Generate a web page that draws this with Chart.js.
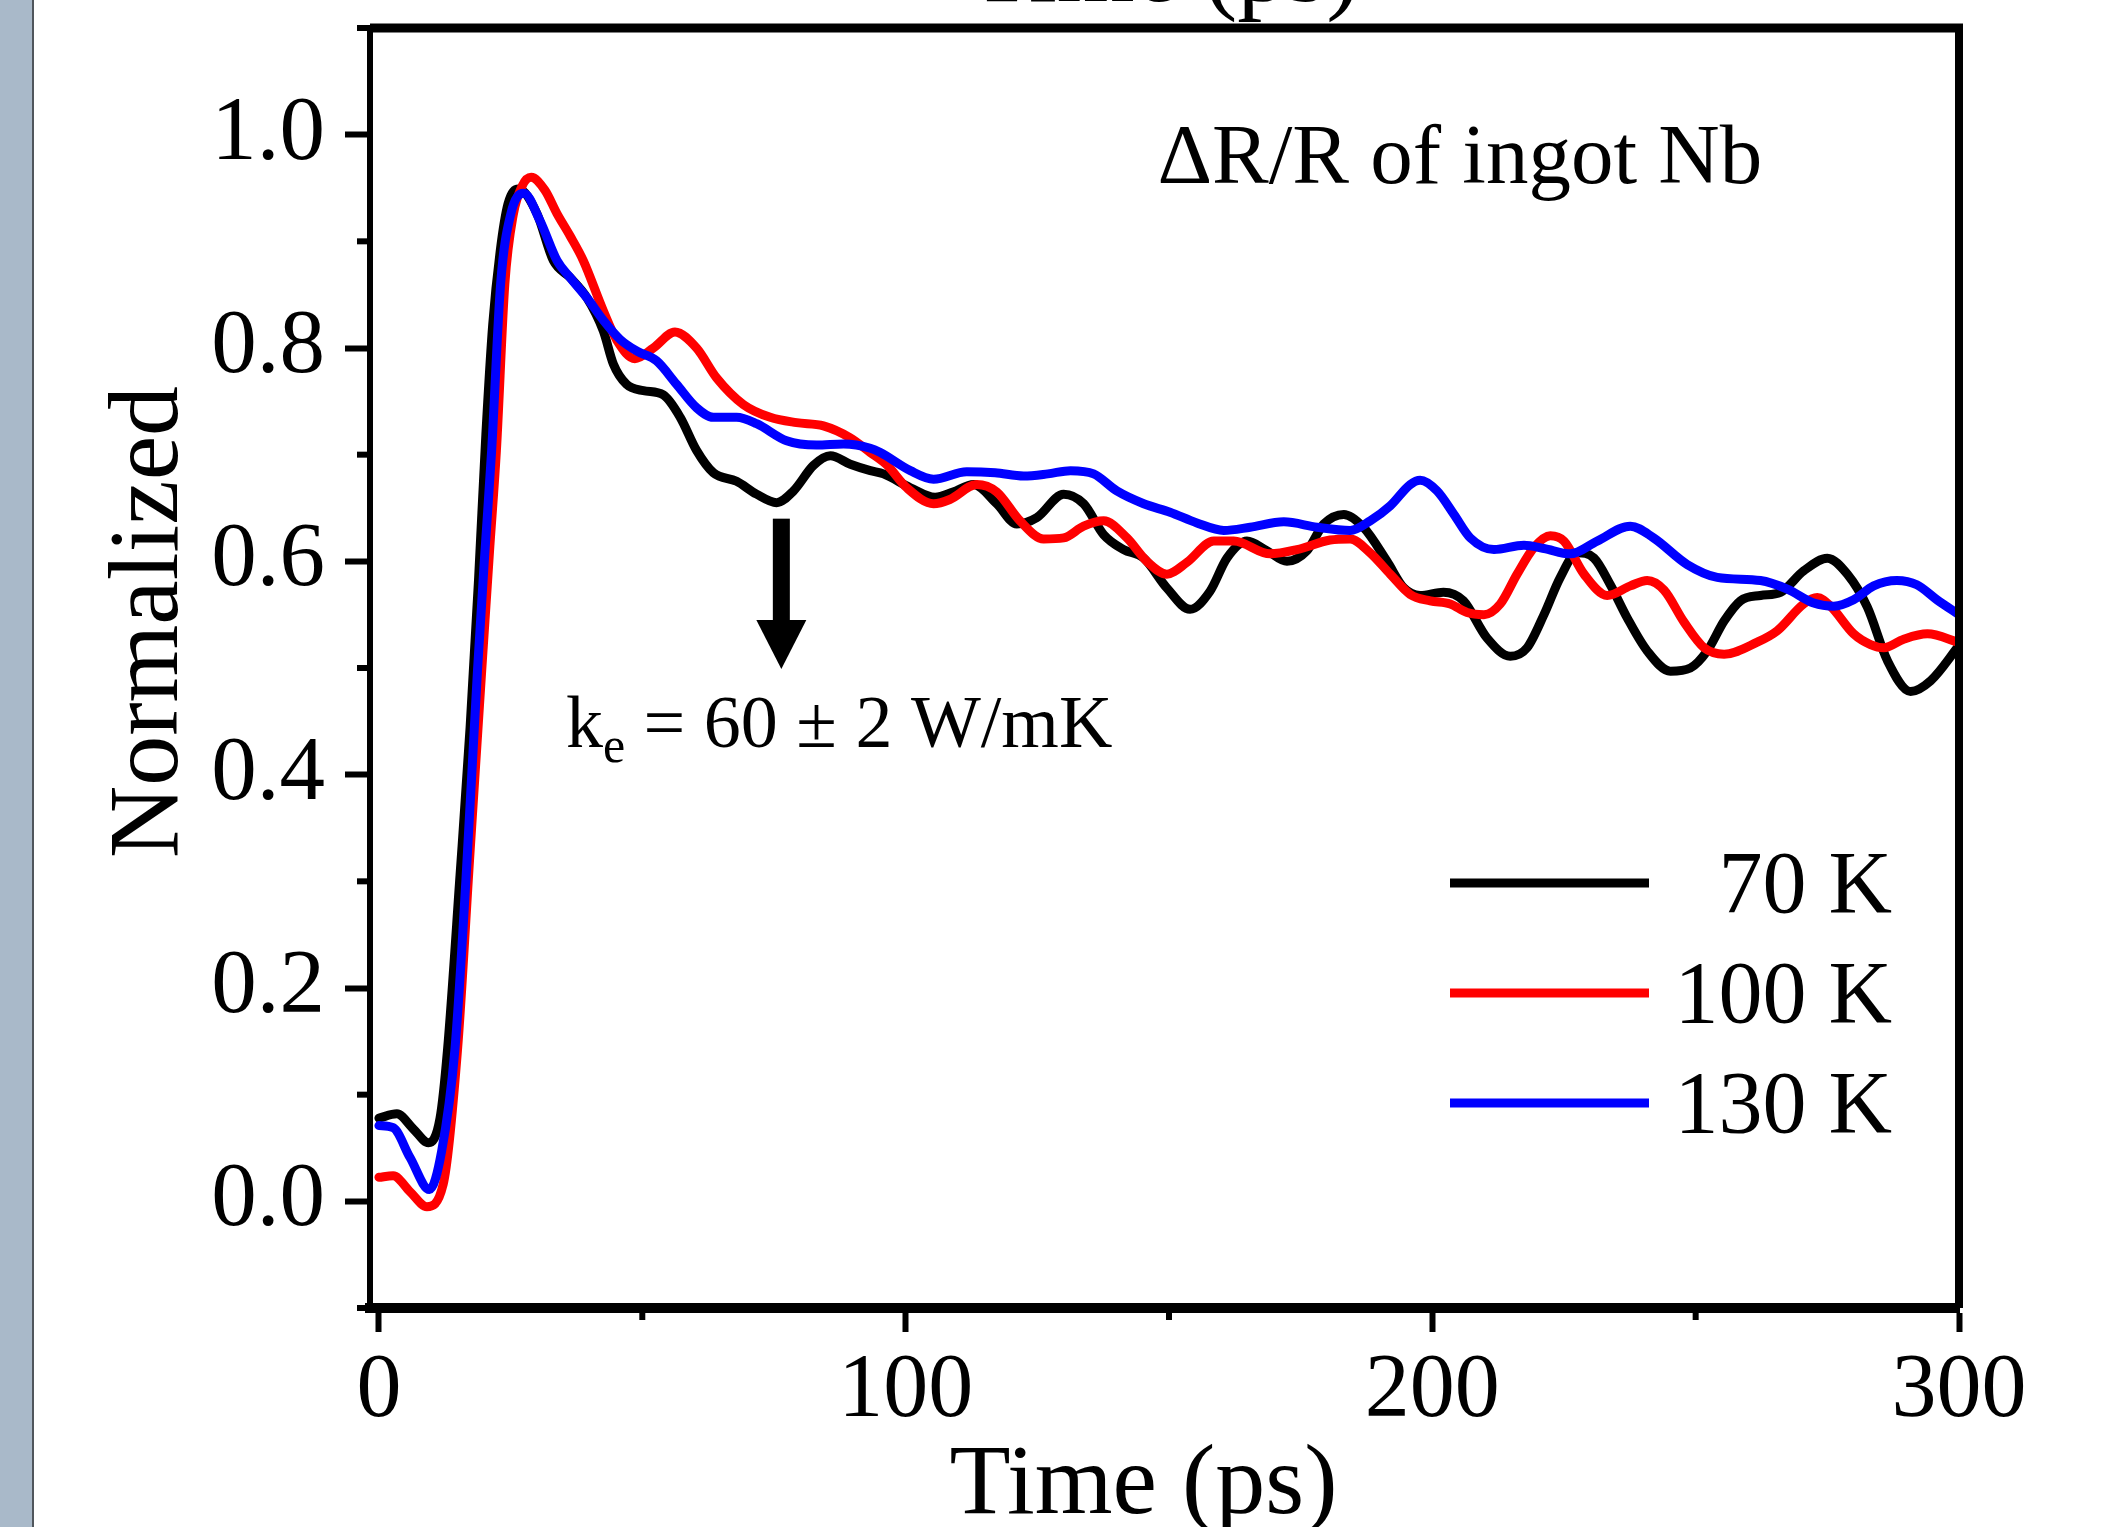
<!DOCTYPE html>
<html>
<head>
<meta charset="utf-8">
<script src="https://cdn.jsdelivr.net/npm/chart.js@4.4.1/dist/chart.umd.min.js"></script>
<style>
  html, body { margin: 0; padding: 0; background: #fff; }
  canvas { display: block; }
</style>
</head>
<body>
<canvas id="reflectivity" width="2110" height="1527"></canvas>
<script>
// time axis (ps) and normalized dR/R for each temperature
var t70 = [0, 3.4, 6.5, 9.4, 11.6, 13.0, 15.4, 17.3, 18.9, 20.3, 21.6, 23.0, 24.5, 26.5, 30.0, 33.1, 36.3, 39.5, 42.6, 44.5, 47.0, 50.2, 54.0, 57.2, 60.3, 63.5, 67.9, 71.7, 75.5, 78.7, 82.5, 85.7, 89.5, 93.3, 95.8, 100.9, 105.6, 109.0, 112.9, 117.3, 121.1, 124.9, 130.0, 133.8, 137.6, 141.4, 145.2, 149.6, 154.0, 157.8, 161.0, 164.8, 168.6, 172.4, 176.2, 179.4, 183.2, 186.9, 191.4, 194.6, 197.7, 202.1, 205.9, 210.4, 214.8, 218.0, 221.2, 224.3, 227.5, 230.7, 233.8, 237.0, 240.8, 245.2, 249.0, 252.2, 255.4, 258.5, 262.3, 266.1, 270.5, 275.0, 278.8, 282.6, 286.4, 290.8, 294.6, 300];
var v70 = [0.078, 0.082, 0.068, 0.055, 0.078, 0.141, 0.306, 0.444, 0.582, 0.719, 0.822, 0.89, 0.935, 0.949, 0.926, 0.882, 0.866, 0.847, 0.816, 0.785, 0.766, 0.760, 0.756, 0.735, 0.704, 0.683, 0.675, 0.663, 0.655, 0.666, 0.690, 0.699, 0.691, 0.685, 0.682, 0.669, 0.660, 0.665, 0.672, 0.654, 0.635, 0.641, 0.663, 0.654, 0.625, 0.611, 0.603, 0.575, 0.555, 0.572, 0.603, 0.619, 0.610, 0.600, 0.610, 0.635, 0.644, 0.632, 0.600, 0.575, 0.568, 0.571, 0.563, 0.528, 0.511, 0.519, 0.550, 0.585, 0.608, 0.603, 0.578, 0.547, 0.516, 0.497, 0.500, 0.516, 0.544, 0.563, 0.568, 0.571, 0.591, 0.603, 0.588, 0.557, 0.507, 0.478, 0.488, 0.521];

var t100 = [0, 2.7, 5.9, 9.1, 12.2, 14.9, 17.2, 19.5, 21.0, 22.3, 23.9, 25.5, 27.2, 28.9, 31.5, 33.8, 36.3, 38.8, 42.6, 45.2, 48.6, 52.1, 56.2, 60.3, 64.1, 69.2, 74.3, 79.3, 84.4, 89.4, 93.3, 96.5, 100.2, 105.3, 108.4, 113.5, 117.3, 121.7, 126.2, 130.0, 133.8, 137.6, 142.0, 145.8, 149.6, 153.4, 158.5, 162.3, 169.2, 174.3, 180.6, 184.4, 188.2, 192.0, 195.8, 199.6, 203.4, 206.6, 209.8, 212.9, 216.1, 219.3, 222.4, 225.0, 228.8, 233.2, 237.6, 240.8, 244.0, 247.8, 251.6, 255.4, 261.6, 265.5, 270.5, 273.1, 275.6, 280.0, 283.2, 285.7, 289.5, 294.0, 300];
var v100 = [0.0225, 0.024, 0.009, -0.005, 0.016, 0.141, 0.32, 0.497, 0.61, 0.704, 0.86, 0.925, 0.952, 0.960, 0.948, 0.926, 0.905, 0.882, 0.835, 0.807, 0.790, 0.800, 0.815, 0.800, 0.772, 0.747, 0.735, 0.730, 0.727, 0.716, 0.702, 0.690, 0.669, 0.654, 0.658, 0.672, 0.665, 0.638, 0.621, 0.622, 0.633, 0.638, 0.622, 0.600, 0.588, 0.599, 0.619, 0.619, 0.607, 0.611, 0.620, 0.621, 0.608, 0.588, 0.569, 0.563, 0.560, 0.552, 0.550, 0.560, 0.588, 0.613, 0.624, 0.619, 0.588, 0.568, 0.577, 0.582, 0.573, 0.543, 0.519, 0.513, 0.524, 0.535, 0.560, 0.566, 0.558, 0.532, 0.522, 0.519, 0.527, 0.532, 0.524];

var t130 = [0, 2.7, 5.9, 9.6, 11.9, 14.4, 16.5, 18.7, 20.0, 21.4, 23.1, 25.0, 27.5, 30.6, 33.8, 36.3, 39.5, 42.6, 45.8, 49.0, 52.7, 56.5, 60.3, 63.5, 67.9, 71.7, 77.4, 83.1, 88.2, 93.3, 95.2, 100.9, 105.3, 111.6, 117.0, 122.4, 127.0, 131.3, 135.7, 140.1, 145.2, 150.2, 155.3, 160.4, 165.4, 171.8, 178.1, 184.4, 188.2, 192.0, 195.8, 197.7, 200.9, 204.1, 207.2, 211.7, 217.4, 221.2, 226.2, 231.3, 237.6, 242.0, 248.4, 254.1, 262.3, 267.4, 272.4, 276.2, 280.0, 283.8, 288.2, 292.0, 295.8, 300];
var v130 = [0.071, 0.069, 0.041, 0.011, 0.047, 0.141, 0.30, 0.497, 0.60, 0.704, 0.86, 0.925, 0.945, 0.919, 0.882, 0.866, 0.847, 0.826, 0.808, 0.797, 0.788, 0.766, 0.744, 0.735, 0.735, 0.729, 0.713, 0.709, 0.710, 0.706, 0.702, 0.685, 0.677, 0.684, 0.683, 0.680, 0.682, 0.685, 0.682, 0.666, 0.654, 0.646, 0.636, 0.629, 0.632, 0.637, 0.632, 0.629, 0.638, 0.652, 0.672, 0.676, 0.666, 0.644, 0.622, 0.611, 0.615, 0.612, 0.607, 0.619, 0.633, 0.622, 0.597, 0.585, 0.582, 0.574, 0.561, 0.558, 0.564, 0.577, 0.582, 0.578, 0.564, 0.550];

var seriesLabels = ['70 K', '100 K', '130 K'];
var seriesColors = ['#000000', '#ff0000', '#0000ff'];

// tick positions; labelled (major) ticks are listed separately
var xTickValues = [0, 50, 100, 150, 200, 250, 300];
var xMajorTicks = [0, 100, 200, 300];
var yTickValues = [-0.1, 0, 0.1, 0.2, 0.3, 0.4, 0.5, 0.6, 0.7, 0.8, 0.9, 1.0, 1.1];
var yMajorTicks = [0, 0.2, 0.4, 0.6, 0.8, 1.0];

// annotation anchors, in data units (ps, normalized)
var titleNote = { text: '\u0394R/R of ingot Nb', t: 147.8, v: 0.955 };
var keNote = { t: 35.5, v: 0.426 };
var arrowNote = { t: 76.4, from: 0.640, headBase: 0.545, to: 0.499 };

var serif = '"Liberation Serif", "Times New Roman", serif';
Chart.defaults.font.family = serif;
Chart.defaults.color = '#000';

function points(ts, vs) {
    return ts.map(function (t, i) { return { x: t, y: vs[i] }; });
}

function inList(list, v) {
    return list.some(function (m) { return Math.abs(m - v) < 1e-6; });
}

function fixedBox(prop, size) {
    return function (s) {
        s[prop] = size;
        s.paddingTop = 0; s.paddingBottom = 0; s.paddingLeft = 0; s.paddingRight = 0;
    };
}

var decorations = {
    id: 'decorations',
    beforeDraw: function (chart) {
        var c = chart.ctx;
        c.save();
        c.fillStyle = '#ffffff';
        c.fillRect(0, 0, chart.width, chart.height);
        // grey page margin on the left
        c.fillStyle = '#a9b9c9';
        c.fillRect(0, 0, 32, chart.height);
        c.fillStyle = '#50565c';
        c.fillRect(32, 0, 2, chart.height);
        c.restore();
    },
    afterDraw: function (chart) {
        var c = chart.ctx, a = chart.chartArea;
        var xs = chart.scales.x, ys = chart.scales.y;
        c.save();
        c.strokeStyle = '#000';
        c.fillStyle = '#000';

        // top and right frame
        c.lineWidth = 9;
        c.beginPath(); c.moveTo(a.left, a.top); c.lineTo(a.right + 4, a.top); c.stroke();
        c.lineWidth = 8;
        c.beginPath(); c.moveTo(a.right, a.top); c.lineTo(a.right, a.bottom); c.stroke();

        // minor ticks
        c.lineWidth = 6;
        xs.ticks.forEach(function (tk) {
            if (!inList(xMajorTicks, tk.value)) {
                var px = xs.getPixelForValue(tk.value);
                c.beginPath(); c.moveTo(px, a.bottom); c.lineTo(px, a.bottom + 12); c.stroke();
            }
        });
        ys.ticks.forEach(function (tk) {
            if (!inList(yMajorTicks, tk.value)) {
                var py = ys.getPixelForValue(tk.value);
                c.beginPath(); c.moveTo(a.left, py); c.lineTo(a.left - 13, py); c.stroke();
            }
        });

        // axis titles
        c.font = '100px ' + serif;
        c.textAlign = 'center';
        c.textBaseline = 'alphabetic';
        c.fillText('Time (ps)', (a.left + a.right) / 2 - 21, 1513);
        c.fillText('Time (ps)', (a.left + a.right) / 2 + 1, 1);   // title of the panel above, cut off
        c.save();
        c.translate(177, 622);
        c.rotate(-Math.PI / 2);
        c.fillText('Normalized', 0, 0);
        c.restore();

        // sample label
        c.textAlign = 'left';
        c.font = '85px ' + serif;
        c.fillText(titleNote.text, xs.getPixelForValue(titleNote.t), ys.getPixelForValue(titleNote.v));

        // k_e = 60 +- 2 W/mK
        var kx = xs.getPixelForValue(keNote.t), ky = ys.getPixelForValue(keNote.v);
        c.font = '74px ' + serif;
        c.fillText('k', kx, ky);
        kx += c.measureText('k').width;
        c.font = '50px ' + serif;
        c.fillText('e', kx, ky + 15);
        kx += c.measureText('e').width;
        c.font = '74px ' + serif;
        c.fillText(' = 60 \u00b1 2 W/mK', kx, ky);

        // arrow
        var ax = xs.getPixelForValue(arrowNote.t);
        var yTop = ys.getPixelForValue(arrowNote.from);
        var yHead = ys.getPixelForValue(arrowNote.headBase);
        var yTip = ys.getPixelForValue(arrowNote.to);
        c.fillRect(ax - 8.5, yTop, 17, yHead - yTop + 1);
        c.beginPath();
        c.moveTo(ax - 25, yHead); c.lineTo(ax + 25, yHead); c.lineTo(ax, yTip);
        c.closePath(); c.fill();

        // legend
        c.font = '88px ' + serif;
        c.textAlign = 'right';
        chart.data.datasets.forEach(function (ds, i) {
            var ly = 883 + i * 110;
            c.strokeStyle = ds.borderColor;
            c.lineWidth = 9;
            c.lineCap = 'butt';
            c.beginPath(); c.moveTo(1450, ly); c.lineTo(1649, ly); c.stroke();
            c.fillText(ds.label, 1892, ly + 29);
        });
        c.restore();
    }
};

function lineSet(i, ts, vs, order) {
    return {
        label: seriesLabels[i],
        data: points(ts, vs),
        borderColor: seriesColors[i],
        borderWidth: 9,
        pointRadius: 0,
        fill: false,
        cubicInterpolationMode: 'monotone',
        borderJoinStyle: 'round',
        borderCapStyle: 'round',
        order: order
    };
}

var chart = new Chart(document.getElementById('reflectivity'), {
    type: 'line',
    data: {
        datasets: [
            lineSet(0, t70, v70, 3),
            lineSet(1, t100, v100, 2),
            lineSet(2, t130, v130, 1)
        ]
    },
    options: {
        responsive: false,
        animation: false,
        events: [],
        layout: { padding: { left: 0, top: 28, right: 151, bottom: 0 } },
        plugins: { legend: { display: false }, tooltip: { enabled: false } },
        scales: {
            x: {
                type: 'linear',
                min: -1.7,
                max: 300,
                afterBuildTicks: function (s) { s.ticks = xTickValues.map(function (v) { return { value: v }; }); },
                afterFit: fixedBox('height', 219),
                ticks: {
                    autoSkip: false,
                    maxRotation: 0,
                    padding: 6,
                    font: { size: 90 },
                    callback: function (v) { return inList(xMajorTicks, v) ? String(v) : ''; }
                },
                grid: {
                    drawOnChartArea: false,
                    tickLength: 24,
                    tickWidth: 6,
                    tickColor: function (ctx) { return ctx.tick && inList(xMajorTicks, ctx.tick.value) ? '#000' : 'rgba(0,0,0,0)'; }
                },
                border: { color: '#000', width: 10 }
            },
            y: {
                type: 'linear',
                min: -0.1,
                max: 1.1,
                afterBuildTicks: function (s) { s.ticks = yTickValues.map(function (v) { return { value: v }; }); },
                afterFit: fixedBox('width', 370),
                ticks: {
                    autoSkip: false,
                    padding: 20,
                    font: { size: 91 },
                    callback: function (v) { return inList(yMajorTicks, v) ? v.toFixed(1) : ''; }
                },
                grid: {
                    drawOnChartArea: false,
                    tickLength: 25,
                    tickWidth: 6,
                    tickColor: function (ctx) { return ctx.tick && inList(yMajorTicks, ctx.tick.value) ? '#000' : 'rgba(0,0,0,0)'; }
                },
                border: { color: '#000', width: 6 }
            }
        }
    },
    plugins: [decorations]
});
</script>
</body>
</html>
